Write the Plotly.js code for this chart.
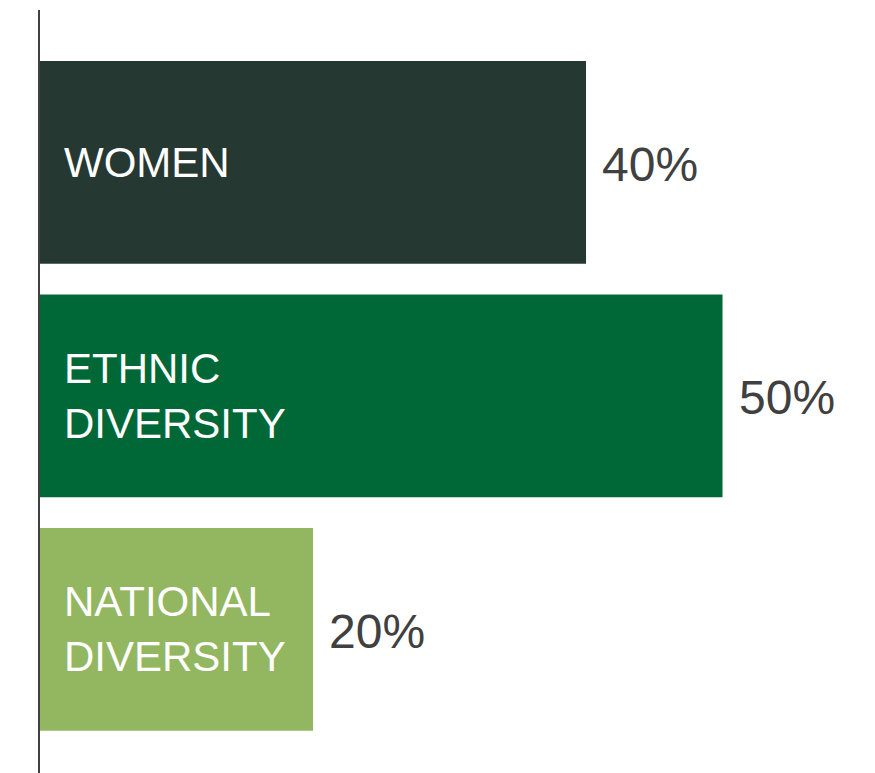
<!DOCTYPE html>
<html>
<head>
<meta charset="utf-8">
<script src="https://cdn.plot.ly/plotly-3.0.1.min.js"></script>
<style>html,body{margin:0;padding:0;background:#fff;}#chart{width:875px;height:773px;}</style>
</head>
<body>
<div id="chart"></div>
<script>
const categories = ["WOMEN", "ETHNIC DIVERSITY", "NATIONAL DIVERSITY"];
const labels = ["WOMEN", "ETHNIC<br>DIVERSITY", "NATIONAL<br>DIVERSITY"];
const values = [40, 50, 20];
const valueLabels = ["40%", "50%", "20%"];
const colors = ["#263832", "#006837", "#93B661"];

const trace = {
  type: "bar",
  orientation: "h",
  y: categories,
  x: values,
  marker: {color: colors, line: {width: 0}},
  hoverinfo: "none"
};

const annotations = [];
categories.forEach((c, i) => {
  annotations.push({
    x: 0, y: c, xref: "x", yref: "y",
    text: labels[i], showarrow: false,
    xanchor: "left", yanchor: "middle", align: "left", xshift: 22,
    font: {family: "Liberation Sans, Arial, sans-serif", size: 42, color: "#ffffff"}
  });
  annotations.push({
    x: values[i], y: c, xref: "x", yref: "y",
    text: valueLabels[i], showarrow: false,
    xanchor: "left", yanchor: "middle", xshift: 14, yshift: -2,
    font: {family: "Liberation Sans, Arial, sans-serif", size: 48, color: "#404040"}
  });
});

const layout = {
  width: 875, height: 773,
  margin: {l: 40, r: 0, t: 10, b: 0, pad: 0},
  paper_bgcolor: "#ffffff", plot_bgcolor: "#ffffff",
  showlegend: false,
  bargap: 0.132,
  xaxis: {range: [0, 61.17], showgrid: false, zeroline: false, showticklabels: false, showline: false, ticks: ""},
  yaxis: {
    type: "category", categoryorder: "array", categoryarray: categories,
    range: [2.615, -0.652], showgrid: false, zeroline: false, showticklabels: false, ticks: "",
    showline: true, linecolor: "#404040", linewidth: 2
  },
  annotations: annotations
};

Plotly.newPlot("chart", [trace], layout, {displayModeBar: false, staticPlot: true});
</script>
</body>
</html>
